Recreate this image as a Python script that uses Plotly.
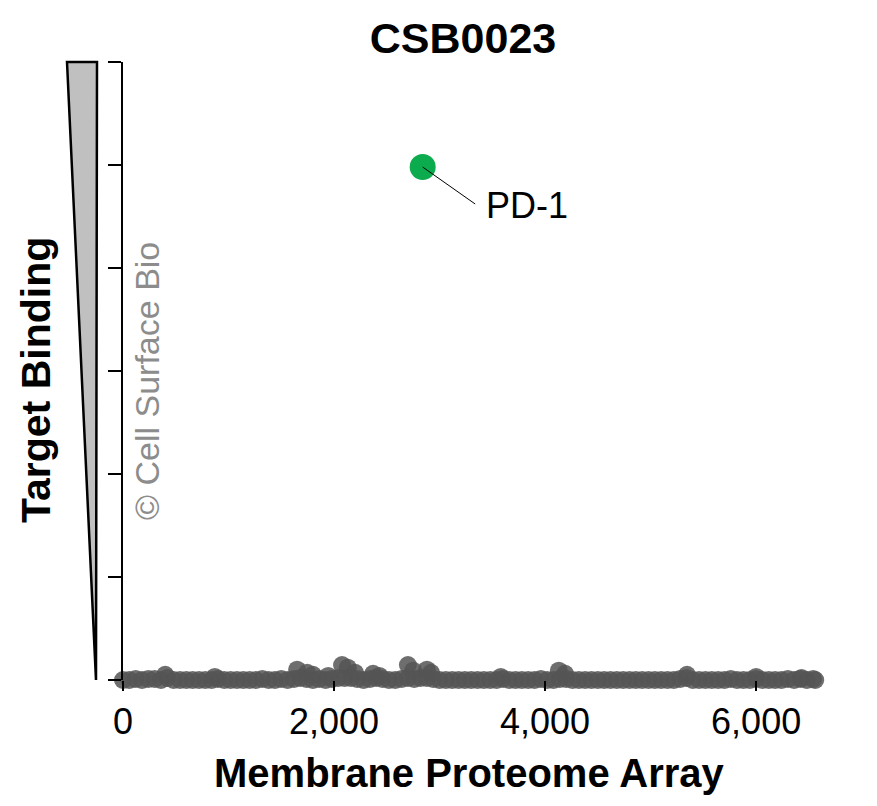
import plotly.graph_objects as go

# background proteins on the array (index along x, binding signal on y)
base_x = [0, 60, 120, 180, 240, 300, 360, 420, 480, 540, 600, 660, 720, 780, 840, 900,
          960, 1020, 1080, 1140, 1200, 1260, 1320, 1380, 1440, 1500, 1560, 1620, 1680,
          1740, 1800, 1860, 1920, 1980, 2040, 2100, 2160, 2220, 2280, 2340, 2400, 2460,
          2520, 2580, 2640, 2700, 2760, 2820, 2880, 2940, 3000, 3060, 3120, 3180, 3240,
          3300, 3360, 3420, 3480, 3540, 3600, 3660, 3720, 3780, 3840, 3900, 3960, 4020,
          4080, 4140, 4200, 4260, 4320, 4380, 4440, 4500, 4560, 4620, 4680, 4740, 4800,
          4860, 4920, 4980, 5040, 5100, 5160, 5220, 5280, 5340, 5400, 5460, 5520, 5580,
          5640, 5700, 5760, 5820, 5880, 5940, 6000, 6060, 6120, 6180, 6240, 6300, 6360,
          6420, 6480, 6540, 6560]
base_y = [0.0, 0.0, 0.01, 0.0, 0.01, 0.01, 0.0, 0.02, 0.0, 0.0, 0.0, 0.0, 0.0, 0.0,
          0.0, 0.01, 0.0, 0.0, 0.0, 0.0, 0.0, 0.0, 0.01, 0.0, 0.0, 0.01, 0.0, 0.01,
          0.02, 0.01, 0.0, 0.01, 0.0, 0.01, 0.02, 0.02, 0.02, 0.01, 0.0, 0.01, 0.02, 0.01,
          0.0, 0.0, 0.01, 0.02, 0.01, 0.02, 0.02, 0.01, 0.0, 0.0, 0.0, 0.0, 0.0, 0.0,
          0.0, 0.0, 0.0, 0.0, 0.01, 0.0, 0.0, 0.0, 0.0, 0.0, 0.01, 0.0, 0.0, 0.01,
          0.01, 0.0, 0.0, 0.0, 0.0, 0.0, 0.0, 0.0, 0.0, 0.0, 0.0, 0.0, 0.0, 0.0,
          0.0, 0.0, 0.0, 0.0, 0.01, 0.02, 0.0, 0.0, 0.0, 0.0, 0.0, 0.0, 0.01, 0.0,
          0.0, 0.0, 0.01, 0.0, 0.0, 0.0, 0.0, 0.01, 0.0, 0.01, 0.0, 0.01, 0.0]

# weak binders that stick up a little above the band
bump_x = [400, 870, 1650, 1745, 1800, 1945, 2076, 2130, 2200, 2370, 2430,
          2700, 2750, 2880, 2920, 3580, 4130, 4190, 5345, 6000, 6430]
bump_y = [0.05, 0.03, 0.10, 0.07, 0.05, 0.04, 0.145, 0.12, 0.07, 0.06, 0.04,
          0.145, 0.09, 0.10, 0.07, 0.03, 0.09, 0.06, 0.05, 0.03, 0.02]

# the specific hit
hit_name = "PD-1"
hit_x = [2840]
hit_y = [4.98]

y_ticks = [0, 1, 2, 3, 4, 5, 6]
x_ticks = [0, 2000, 4000, 6000]
x_ticktext = ["0", "2,000", "4,000", "6,000"]

FONT = "Liberation Sans, Arial, sans-serif"
# page body has an 8px margin, so the figure is 8px smaller than the window
OFF = 8
W, H = 877 - OFF, 806 - OFF
L, T = 123 - OFF, 62 - OFF
pw, ph = 707, 618
R, B = W - L - pw, H - T - ph


def px(x):
    # screen x -> paper x
    return (x - OFF - L) / pw


def py(y):
    # screen y -> paper y
    return (T + ph - (y - OFF)) / ph


fig = go.Figure()

fig.add_trace(go.Scatter(
    x=base_x + bump_x, y=base_y + bump_y, mode="markers",
    marker=dict(size=18, color="#555555", opacity=0.85, line=dict(width=0)),
    cliponaxis=False, hoverinfo="skip", showlegend=False))

fig.add_trace(go.Scatter(
    x=hit_x, y=hit_y, mode="markers",
    marker=dict(size=26, color="#0cab4e", line=dict(width=0)),
    cliponaxis=False, showlegend=False, name=hit_name))

# wedge next to the y axis
x0, x1, x2 = px(67), px(97), px(96)
fig.add_shape(type="path", xref="paper", yref="paper",
              path=f"M {x0},1 L {x1},1 L {x2},0 Z",
              fillcolor="#c0c0c0", line=dict(color="black", width=2.5))

# leader line from the hit, then its label
fig.add_annotation(x=hit_x[0], y=hit_y[0], text="", showarrow=True,
                   ax=54, ay=38, arrowhead=0, arrowwidth=1, arrowcolor="black",
                   standoff=0, startstandoff=0)
fig.add_annotation(x=hit_x[0], y=hit_y[0], text=hit_name, showarrow=False,
                   xanchor="left", yanchor="middle", xshift=61, yshift=-38,
                   font=dict(family=FONT, size=36, color="black"))

fig.add_annotation(xref="paper", yref="paper", x=px(36), y=py(380),
                   xanchor="center", yanchor="middle",
                   text="<b>Target Binding</b>", textangle=-90, showarrow=False,
                   font=dict(family=FONT, size=41, color="black"))
fig.add_annotation(xref="paper", yref="paper", x=px(147), y=py(381),
                   xanchor="center", yanchor="middle",
                   text="© Cell Surface Bio", textangle=-90, showarrow=False,
                   font=dict(family=FONT, size=34, color="#8c8c8c"))
fig.add_annotation(xref="paper", yref="paper", x=px(469), y=py(773),
                   xanchor="center", yanchor="middle",
                   text="<b>Membrane Proteome Array</b>", showarrow=False,
                   font=dict(family=FONT, size=40, color="black"))

fig.update_layout(
    width=W, height=H,
    margin=dict(l=L, r=R, t=T, b=B),
    plot_bgcolor="white", paper_bgcolor="white",
    title=dict(text="<b>CSB0023</b>", x=(463 - OFF) / W, xanchor="center",
               y=1 - (38 - OFF) / H, yanchor="middle",
               font=dict(family=FONT, size=43, color="black")),
    xaxis=dict(range=[0, 6700], showgrid=False, zeroline=False, showline=False,
               ticks="outside", ticklen=10, tickwidth=1.5, tickcolor="black",
               tickvals=x_ticks, ticktext=x_ticktext,
               tickfont=dict(family=FONT, size=36, color="black")),
    yaxis=dict(range=[0, 6], showgrid=False, zeroline=False, showline=True,
               linecolor="black", linewidth=2, ticks="outside", ticklen=13,
               tickwidth=2, tickcolor="black", tickvals=y_ticks,
               showticklabels=False),
)

fig.write_html("out.html")
